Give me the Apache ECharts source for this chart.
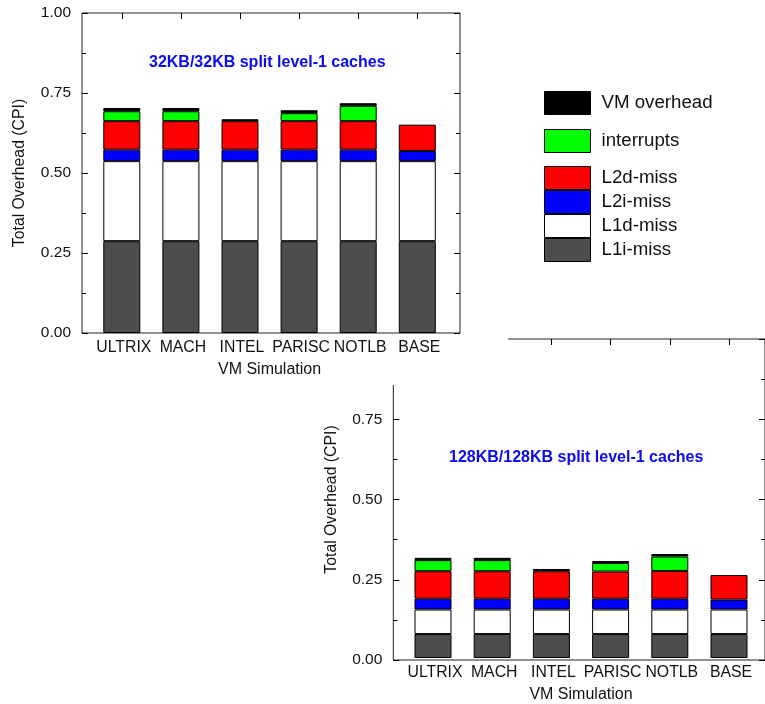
<!DOCTYPE html>
<html>
<head>
<meta charset="utf-8">
<script src="https://cdn.jsdelivr.net/npm/echarts@6/dist/echarts.min.js"></script>
<style>
html,body{margin:0;padding:0;background:#fff;}
#chart{width:765px;height:704px;}
</style>
</head>
<body>
<div id="chart"></div>
<script>
// ---- data ----
const categories = ['ULTRIX', 'MACH', 'INTEL', 'PARISC', 'NOTLB', 'BASE'];
const seriesNames = ['L1i-miss', 'L1d-miss', 'L2i-miss', 'L2d-miss', 'interrupts', 'VM overhead'];
const yTicks = [0, 0.25, 0.5, 0.75, 1.0];

// 32KB/32KB chart
const l1iMiss32 = [0.287, 0.287, 0.287, 0.287, 0.287, 0.287];
const l1dMiss32 = [0.250, 0.250, 0.250, 0.250, 0.250, 0.250];
const l2iMiss32 = [0.036, 0.036, 0.036, 0.036, 0.036, 0.032];
const l2dMiss32 = [0.089, 0.089, 0.089, 0.089, 0.089, 0.082];
const interrupts32 = [0.031, 0.031, null, 0.025, 0.048, null];
const vmOverhead32 = [0.010, 0.010, 0.006, 0.009, 0.008, null];

// 128KB/128KB chart
const l1iMiss128 = [0.075, 0.075, 0.075, 0.075, 0.075, 0.075];
const l1dMiss128 = [0.077, 0.077, 0.077, 0.077, 0.077, 0.077];
const l2iMiss128 = [0.034, 0.034, 0.034, 0.034, 0.034, 0.031];
const l2dMiss128 = [0.086, 0.086, 0.086, 0.085, 0.087, 0.077];
const interrupts128 = [0.035, 0.035, null, 0.027, 0.045, null];
const vmOverhead128 = [0.007, 0.007, 0.007, 0.006, 0.008, null];

const title32 = '32KB/32KB split level-1 caches';
const title128 = '128KB/128KB split level-1 caches';

// ---- styling ----
const FONT = "'Liberation Sans', Arial, Helvetica, sans-serif";
const colors = {
  'L1i-miss': '#4d4d4d',
  'L1d-miss': '#ffffff',
  'L2i-miss': '#0000ff',
  'L2d-miss': '#ff0000',
  'interrupts': '#00ff00',
  'VM overhead': '#000000'
};
const txt = '#111';

function frameYAxes(gridIndex, z) {
  const common = {
    gridIndex, type: 'value', min: 0, max: 1, interval: 0.25, z,
    axisLine: { show: false },
    splitLine: { show: false },
    axisTick: { show: true, inside: true, length: 6, lineStyle: { color: '#000' } },
    minorTick: { show: true, splitNumber: 2, length: 4, lineStyle: { color: '#000' } }
  };
  return [
    Object.assign({}, common, {
      position: 'left',
      name: 'Total Overhead (CPI)', nameLocation: 'middle', nameGap: 54,
      nameTextStyle: { fontFamily: FONT, fontSize: 15.8, color: txt },
      axisLabel: { show: true, margin: 11, fontFamily: FONT, fontSize: 15.5, color: txt,
        formatter: v => v.toFixed(2) }
    }),
    Object.assign({}, common, { position: 'right', axisLabel: { show: false } })
  ];
}

function barAxes(gridIndex, z) {
  return {
    x: [
      {
        gridIndex, type: 'category', data: categories, position: 'bottom', z,
        axisLine: { show: false }, axisTick: { show: false },
        axisLabel: { interval: 0, hideOverlap: false, margin: 7, fontFamily: FONT, fontSize: 15.8,
          color: txt, padding: [0, 0, 0, 4] },
        name: 'VM Simulation', nameLocation: 'middle', nameGap: 29,
        nameTextStyle: { fontFamily: FONT, fontSize: 16, color: txt }
      },
      {
        gridIndex, type: 'category', data: categories, position: 'top', z,
        axisLine: { show: false }, axisLabel: { show: false },
        axisTick: { show: true, interval: 0, inside: true, alignWithLabel: true, length: 6, lineStyle: { color: '#000' } }
      }
    ],
    y: { gridIndex, type: 'value', min: 0, max: 1, show: false }
  };
}

function makeSeries(xAxisIndex, yAxisIndex, stack, arrays, z) {
  return seriesNames.map((name, i) => ({
    name, type: 'bar', stack, xAxisIndex, yAxisIndex, z,
    barWidth: 37,
    data: arrays[i],
    itemStyle: { color: colors[name], borderColor: '#000', borderWidth: 1 },
    emphasis: { disabled: true }
  }));
}

const axesTop = barAxes(1, 6);
const axesBot = barAxes(4, 0);
const fy0 = frameYAxes(0, 6);
const fy3 = frameYAxes(3, 0);

const legendText = { fontFamily: FONT, fontSize: 18.7, color: txt, padding: [0, 0, 0, 6] };

const option = {
  animation: false,
  backgroundColor: '#fff',
  title: [
    { text: title32, left: 149, top: 55, padding: 0, z: 8,
      textStyle: { fontFamily: FONT, fontSize: 16, fontWeight: 'bold', color: '#0a0af5' } },
    { text: title128, left: 449, top: 450, padding: 0, z: 8,
      textStyle: { fontFamily: FONT, fontSize: 16, fontWeight: 'bold', color: '#0a0af5' } }
  ],
  legend: [
    { data: ['VM overhead', 'interrupts'], left: 544, top: 91, orient: 'vertical', padding: 0,
      itemGap: 14, itemWidth: 46, itemHeight: 23, icon: 'rect', selectedMode: false, z: 8,
      itemStyle: { borderColor: '#000', borderWidth: 1 }, textStyle: legendText },
    { data: ['L2d-miss', 'L2i-miss', 'L1d-miss', 'L1i-miss'], left: 544, top: 166, orient: 'vertical', padding: 0,
      itemGap: 0, itemWidth: 46, itemHeight: 23, icon: 'rect', selectedMode: false, z: 8,
      itemStyle: { borderColor: '#000', borderWidth: 1 }, textStyle: legendText }
  ],
  grid: [
    { left: 82, top: 13, width: 378, height: 320, show: true, borderColor: '#222', borderWidth: 1, backgroundColor: 'transparent', z: 6 },
    { left: 92.25, top: 13, width: 354.6, height: 320, z: 6 },
    { left: 0, top: 0, width: 508, height: 385, show: true, borderWidth: 0, backgroundColor: '#fff', z: 5 },
    { left: 393.3, top: 339, width: 378, height: 321, show: true, borderColor: '#222', borderWidth: 1, backgroundColor: 'transparent', z: 0 },
    { left: 403.4, top: 339, width: 355.2, height: 321, z: 0 }
  ],
  xAxis: [
    { gridIndex: 0, type: 'value', min: 0, max: 1, show: false },
    axesTop.x[0], axesTop.x[1],
    { gridIndex: 2, type: 'value', min: 0, max: 1, show: false },
    { gridIndex: 3, type: 'value', min: 0, max: 1, show: false },
    axesBot.x[0], axesBot.x[1]
  ],
  yAxis: [
    fy0[0], fy0[1],
    axesTop.y,
    { gridIndex: 2, type: 'value', min: 0, max: 1, show: false },
    fy3[0], fy3[1],
    axesBot.y
  ],
  series: [].concat(
    makeSeries(1, 2, 'a', [l1iMiss32, l1dMiss32, l2iMiss32, l2dMiss32, interrupts32, vmOverhead32], 7),
    makeSeries(5, 6, 'b', [l1iMiss128, l1dMiss128, l2iMiss128, l2dMiss128, interrupts128, vmOverhead128], 2)
  )
};

const chart = echarts.init(document.getElementById('chart'), null, { renderer: 'canvas' });
chart.setOption(option);
</script>
</body>
</html>
